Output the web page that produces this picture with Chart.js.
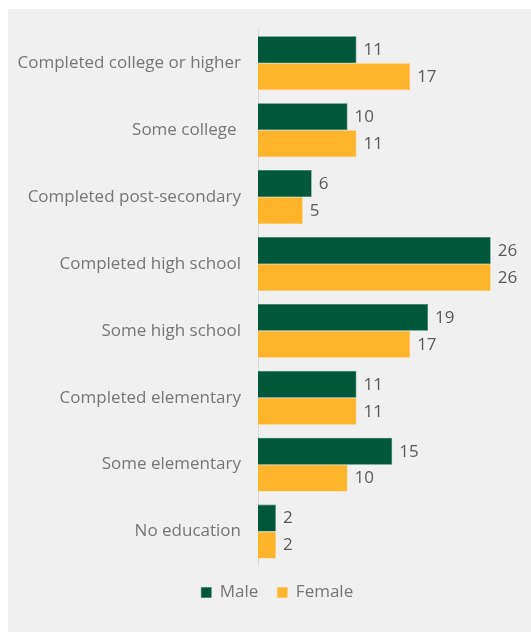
<!DOCTYPE html>
<html>
<head>
<meta charset="utf-8">
<script src="https://cdn.jsdelivr.net/npm/chart.js@4"></script>
<style>
  html, body { margin: 0; padding: 0; background: #ffffff; }
  #panel { position: absolute; left: 8px; top: 9px; width: 523px; height: 623px; background: #f0f0f0; }
  #panel canvas { display: block; }
</style>
</head>
<body>
<div id="panel"><canvas id="chart"></canvas></div>
<script>
// Education level by sex (%)
const categories = [
  'Completed college or higher',
  'Some college ',
  'Completed post-secondary',
  'Completed high school',
  'Some high school',
  'Completed elementary',
  'Some elementary',
  'No education'
];
const maleValues   = [11, 10, 6, 26, 19, 11, 15, 2];
const femaleValues = [17, 11, 5, 26, 17, 11, 10, 2];
const seriesNames  = ['Male', 'Female'];

const FONT = '"Open Sans", "Noto Sans", sans-serif';

// Writes each bar's value just past its end
const valueLabels = {
  id: 'valueLabels',
  afterDatasetsDraw(chart) {
    const ctx = chart.ctx;
    ctx.save();
    ctx.font = '17px ' + FONT;
    ctx.fillStyle = '#595959';
    ctx.textAlign = 'left';
    ctx.textBaseline = 'middle';
    chart.data.datasets.forEach((ds, di) => {
      const meta = chart.getDatasetMeta(di);
      meta.data.forEach((bar, i) => {
        ctx.fillText(String(ds.data[i]), bar.x + 7, bar.y + 0.5);
      });
    });
    ctx.restore();
  }
};

// Nudges the legend a little right of the canvas centre
const legendShift = {
  id: 'legendShift',
  afterLayout(chart) {
    if (chart.legend) {
      chart.legend.left += 10;
      chart.legend.right += 10;
    }
  }
};

new Chart(document.getElementById('chart'), {
  type: 'bar',
  data: {
    labels: categories,
    datasets: [
      { label: seriesNames[0], data: maleValues, backgroundColor: '#00583b', borderColor: '#2e7458', borderWidth: 0.6 },
      { label: seriesNames[1], data: femaleValues, backgroundColor: '#fdb42a', borderColor: '#fcc45a', borderWidth: 0.6 }
    ]
  },
  options: {
    indexAxis: 'y',
    responsive: true,
    maintainAspectRatio: false,
    animation: false,
    layout: { padding: { top: 20.8, right: 4.5, left: 0, bottom: 21 } },
    datasets: { bar: { categoryPercentage: 0.806, barPercentage: 1 } },
    scales: {
      x: { display: false, min: 0, max: 30 },
      y: {
        afterFit(scale) {
          scale.width = 250;
          scale.paddingTop = 0;
          scale.paddingBottom = 0;
        },
        grid: { display: false, drawTicks: false },
        border: { display: true, color: '#d9d9d9', width: 1 },
        ticks: { color: '#767676', padding: 17, font: { family: FONT, size: 17 } }
      }
    },
    plugins: {
      legend: {
        position: 'bottom',
        labels: {
          boxWidth: 10, boxHeight: 10, padding: 19,
          color: '#767676',
          font: { family: FONT, size: 17 }
        }
      },
      tooltip: { enabled: false }
    }
  },
  plugins: [valueLabels, legendShift]
});
</script>
</body>
</html>
